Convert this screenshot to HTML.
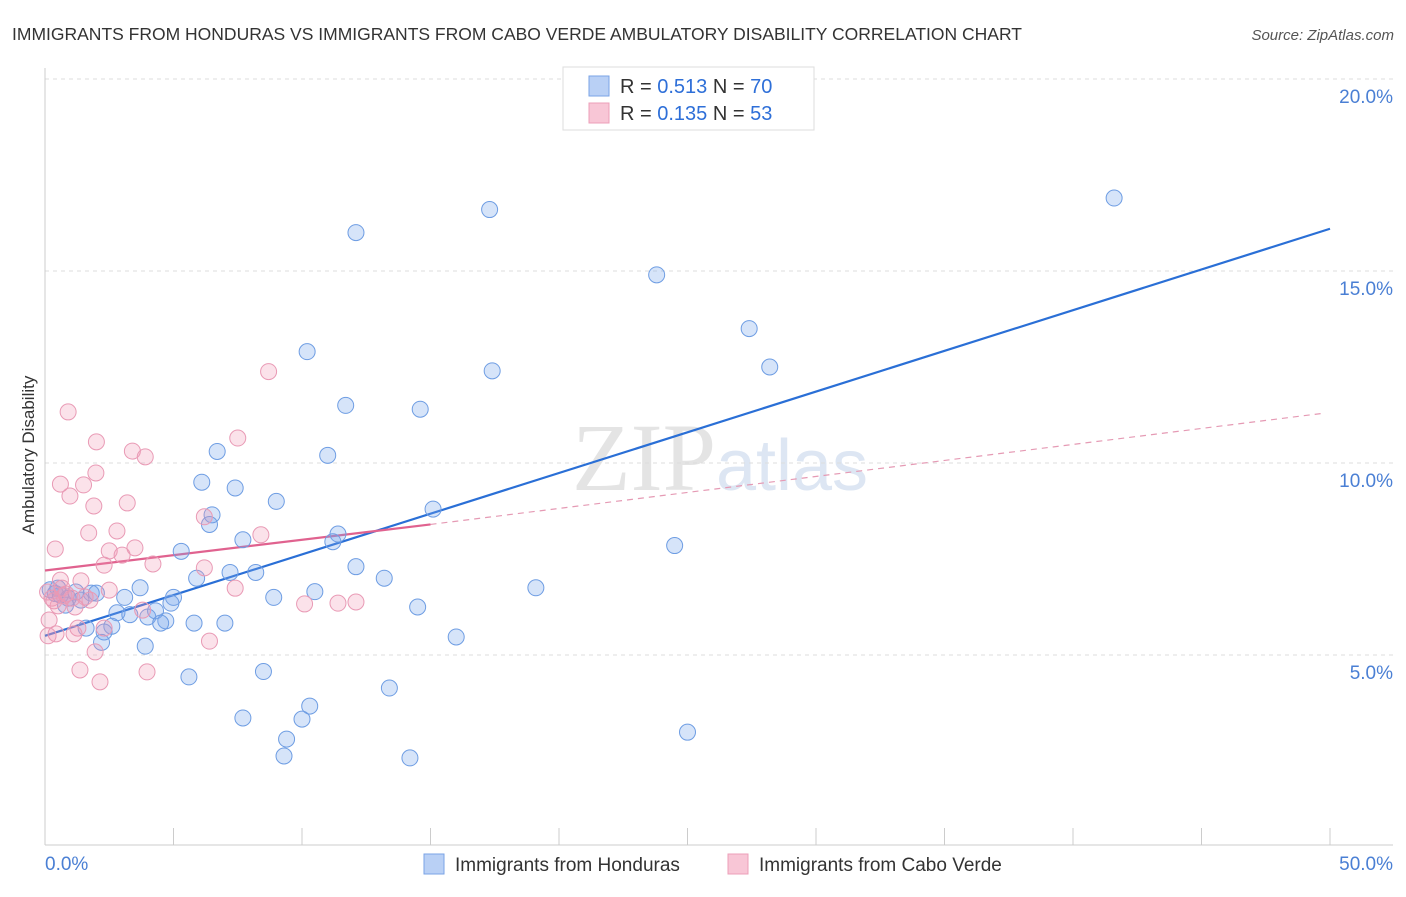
<!DOCTYPE html>
<html><head><meta charset="utf-8"><style>
body{margin:0;background:#fff;font-family:"Liberation Sans",sans-serif}
</style></head><body>
<svg width="1406" height="892" xmlns="http://www.w3.org/2000/svg" font-family="Liberation Sans, sans-serif">
<text x="12" y="40" font-size="17.5" fill="#333">IMMIGRANTS FROM HONDURAS VS IMMIGRANTS FROM CABO VERDE AMBULATORY DISABILITY CORRELATION CHART</text>
<text x="1394" y="40" font-size="15" fill="#555" font-style="italic" text-anchor="end">Source: ZipAtlas.com</text>
<text x="720" y="490" font-size="96" fill="#e4e4e4" text-anchor="middle" font-family="Liberation Serif, serif">ZIP<tspan fill="#dde6f3" font-family="Liberation Sans, sans-serif" font-size="72">atlas</tspan></text>
<text transform="translate(34,455) rotate(-90)" font-size="17" fill="#333" text-anchor="middle">Ambulatory Disability</text>
<g id="grid"></g><g id="axes"></g><g id="lines"></g><g id="pts"></g>
<g>
<rect x="563" y="67" width="251" height="63" fill="#fff" stroke="#ddd"/>
<rect x="589" y="76" width="20" height="20" fill="#b9d0f5" stroke="#7aa3e6"/>
<text x="620" y="93" font-size="20" fill="#333">R = <tspan fill="#2e6fd8">0.513</tspan>   N = <tspan fill="#2e6fd8">70</tspan></text>
<rect x="589" y="103" width="20" height="20" fill="#f8c6d6" stroke="#ec9fb8"/>
<text x="620" y="120" font-size="20" fill="#333">R = <tspan fill="#2e6fd8">0.135</tspan>   N = <tspan fill="#2e6fd8">53</tspan></text>
</g>
<g>
<rect x="424" y="854" width="20" height="20" fill="#b9d0f5" stroke="#7aa3e6"/>
<text x="455" y="871" font-size="19" fill="#333">Immigrants from Honduras</text>
<rect x="728" y="854" width="20" height="20" fill="#f8c6d6" stroke="#ec9fb8"/>
<text x="759" y="871" font-size="19" fill="#333">Immigrants from Cabo Verde</text>
</g>
</svg>
<script>
const yTicks=[5,10,15,20];
const xTickLabels=["0.0%","50.0%"];
const blueX=[41.6,17.3,12.1,23.8,27.4,10.2,17.4,28.2,11.7,14.6,6.7,11.0,6.1,7.4,9.0,15.1,6.5,6.4,7.7,11.4,11.2,24.5,5.3,12.1,7.2,8.2,13.2,5.9,19.1,3.7,10.5,8.9,3.1,5.0,14.5,4.9,4.3,2.8,3.3,4.0,4.7,4.5,5.8,7.0,2.6,1.6,2.3,16.0,2.2,3.9,8.5,5.6,13.4,10.3,7.7,10.0,9.4,25.0,9.3,14.2,0.2,0.4,0.6,0.9,1.2,1.8,2.0,0.8,0.5,1.4];
const blueY=[16.9,16.6,16.0,14.9,13.5,12.9,12.4,12.5,11.5,11.4,10.3,10.2,9.5,9.35,9.0,8.8,8.65,8.4,8.0,8.15,7.95,7.85,7.7,7.3,7.15,7.15,7.0,7.0,6.75,6.75,6.65,6.5,6.5,6.5,6.25,6.35,6.15,6.1,6.05,5.99,5.89,5.83,5.83,5.83,5.75,5.7,5.6,5.47,5.33,5.23,4.57,4.43,4.14,3.67,3.36,3.33,2.81,2.99,2.37,2.32,6.7,6.6,6.56,6.48,6.64,6.61,6.61,6.3,6.74,6.43];
const pinkX=[8.7,0.9,2.0,7.5,3.4,3.9,1.98,0.6,1.5,0.97,3.2,1.9,6.2,1.7,2.8,8.4,0.4,2.5,3.5,3.0,4.2,2.3,6.2,7.4,0.6,1.4,2.5,0.1,0.82,1.05,0.27,10.1,11.4,12.1,0.51,1.17,3.8,0.16,1.28,2.3,0.43,1.13,0.12,6.4,1.95,1.36,3.97,2.14,0.74,1.56,0.35,0.66,1.75];
const pinkY=[12.38,11.33,10.55,10.65,10.31,10.16,9.74,9.45,9.43,9.14,8.96,8.88,8.6,8.18,8.23,8.13,7.76,7.71,7.79,7.6,7.37,7.34,7.27,6.74,6.95,6.93,6.69,6.64,6.59,6.48,6.48,6.33,6.35,6.38,6.28,6.25,6.17,5.91,5.7,5.7,5.55,5.55,5.5,5.36,5.08,4.61,4.56,4.3,6.54,6.51,6.41,6.74,6.43];
const blueLine=[[0,5.5],[50,16.1]];
const pinkLine=[[0,7.2],[15,8.4],[49.8,11.3]];
const NS="http://www.w3.org/2000/svg";
const X=v=>45+v*25.7, Y=v=>847-v*38.4;
function mk(t,a,p){const e=document.createElementNS(NS,t);for(const k in a)e.setAttribute(k,a[k]);document.getElementById(p).appendChild(e);return e;}
yTicks.forEach(t=>{
 const l=mk('line',{x1:45,x2:1393,y1:Y(t),y2:Y(t),stroke:'#ddd','stroke-dasharray':'4,4'},'grid');
 
 
 const tx=mk('text',{x:1393,y:Y(t)+24,'font-size':19,fill:'#4a7fd4','text-anchor':'end'},'grid');
 tx.textContent=t.toFixed(1)+'%';
 
 
});
const ax=mk('line',{x1:45,x2:45,y1:68,y2:845,stroke:'#ccc'},'axes');


const bx=mk('line',{x1:45,x2:1393,y1:845,y2:845,stroke:'#ccc'},'axes');


for(let i=0;i<=10;i++){const t=mk('line',{x1:X(i*5),x2:X(i*5),y1:828,y2:845,stroke:'#ccc'},'axes');
 
 }
[[0,'start',45],[1,'end',1393]].forEach(([i,a,x])=>{const t=mk('text',{x:x,y:870,'font-size':19,fill:'#4a7fd4','text-anchor':a},'axes');t.textContent=xTickLabels[i];
 
 });
function pts(xs,ys,f,s,n){xs.forEach((x,i)=>{const c=mk('circle',{cx:X(x),cy:Y(ys[i]),r:8,fill:f,stroke:s,'stroke-width':1},'pts');
 
 });}
pts(blueX,blueY,'rgba(120,165,235,0.3)','#6e9de3','honduras-point');
pts(pinkX,pinkY,'rgba(240,150,180,0.28)','#e99ab5','cabo-verde-point');
const bl=mk('line',{x1:X(blueLine[0][0]),y1:Y(blueLine[0][1]),x2:X(blueLine[1][0]),y2:Y(blueLine[1][1]),stroke:'#2a6fd6','stroke-width':2.2},'lines');


const p1=mk('line',{x1:X(pinkLine[0][0]),y1:Y(pinkLine[0][1]),x2:X(pinkLine[1][0]),y2:Y(pinkLine[1][1]),stroke:'#e0628f','stroke-width':2.2},'lines');


const p2=mk('line',{x1:X(pinkLine[1][0]),y1:Y(pinkLine[1][1]),x2:X(pinkLine[2][0]),y2:Y(pinkLine[2][1]),stroke:'#e59ab4','stroke-width':1.2,'stroke-dasharray':'6,5'},'lines');


</script>
</body></html>
